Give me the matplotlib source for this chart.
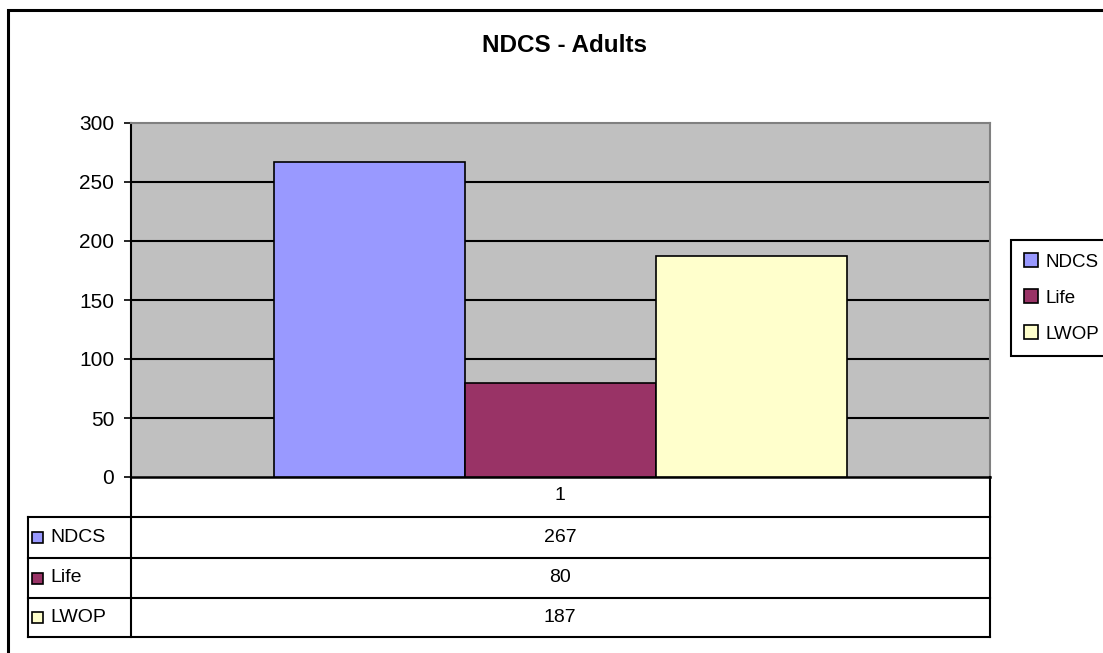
import matplotlib.pyplot as plt
from matplotlib.lines import Line2D
from matplotlib.patches import Patch, Rectangle

plt.rcParams["font.family"] = ["Liberation Sans", "DejaVu Sans"]

# data
title = "NDCS - Adults"
category = "1"
series = ["NDCS", "Life", "LWOP"]
values = [267, 80, 187]
colors = ["#9999FF", "#993366", "#FFFFCC"]
yticks = [0, 50, 100, 150, 200, 250, 300]

W, H = 1103, 653
fig = plt.figure(figsize=(W / 100, H / 100), dpi=100)


def fx(px):
    return px / W


def fy(py):
    return 1 - py / H


# outer chart frame (runs off right/bottom edge like the original)
fig.add_artist(Rectangle((fx(8), fy(H + 20)), fx(W + 20), fy(10) - fy(H + 20),
                         transform=fig.transFigure, fill=False, lw=2.2,
                         edgecolor="black", clip_on=False))

ax = fig.add_axes([fx(131), fy(477), fx(990) - fx(131), fy(123) - fy(477)])
ax.set_facecolor("#C0C0C0")

bw = 1 / 4.5
for i, (name, v, c) in enumerate(zip(series, values, colors)):
    ax.bar((i - 1) * bw, v, width=bw, color=c, edgecolor="black", lw=1.2, zorder=3)

ax.set_xlim(-0.5, 0.5)
ax.set_ylim(0, 300)
ax.set_yticks(yticks)
ax.set_xticks([])
ax.tick_params(axis="y", labelsize=15, length=5, width=1.2, pad=7)
for y in yticks[1:-1]:
    ax.axhline(y, color="black", lw=1.5, zorder=1)
for side in ["top", "right"]:
    ax.spines[side].set_color("#808080")
    ax.spines[side].set_linewidth(1.5)
ax.spines["left"].set_linewidth(1.5)
ax.spines["bottom"].set_linewidth(1.8)

fig.text(fx(565), fy(45), title, ha="center", va="center",
         fontsize=17.5, fontweight="bold")

# data table under the plot
row_lines = [517, 558, 598, 637]
tab_kw = dict(transform=fig.transFigure, color="black", lw=1.5)
fig.add_artist(Line2D([fx(131), fx(131)], [fy(477), fy(637)], **tab_kw))
fig.add_artist(Line2D([fx(990), fx(990)], [fy(477), fy(637)], **tab_kw))
fig.add_artist(Line2D([fx(28), fx(28)], [fy(517), fy(637)], **tab_kw))
for y in row_lines:
    fig.add_artist(Line2D([fx(28), fx(990)], [fy(y), fy(y)], **tab_kw))

fig.text(fx(560), fy(496), category, ha="center", va="center", fontsize=14)
for i, (name, v, c) in enumerate(zip(series, values, colors)):
    yc = (row_lines[i] + row_lines[i + 1]) / 2
    fig.add_artist(Rectangle((fx(32), fy(yc + 5.5)), fx(11), fy(0) - fy(11),
                             transform=fig.transFigure, facecolor=c,
                             edgecolor="black", lw=1.2))
    fig.text(fx(50), fy(yc), name, ha="left", va="center", fontsize=14)
    fig.text(fx(560), fy(yc), str(v), ha="center", va="center", fontsize=14)

# legend
handles = [Patch(facecolor=c, edgecolor="black", lw=1.2) for c in colors]
fig.legend(handles, series, loc="upper left", bbox_to_anchor=(fx(1011), fy(240)),
           fontsize=13.5, frameon=True, fancybox=False, edgecolor="black",
           framealpha=1, handlelength=0.75, handleheight=0.75, handletextpad=0.4,
           labelspacing=1.0, borderpad=0.7, borderaxespad=0)
fig.legends[0].get_frame().set_linewidth(1.5)

fig.savefig("out.png", dpi=100)
